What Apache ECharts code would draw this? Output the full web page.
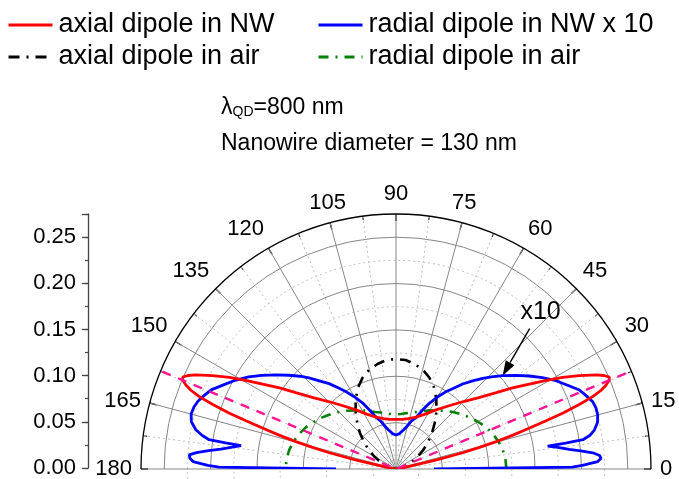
<!DOCTYPE html>
<html>
<head>
<meta charset="utf-8">
<script src="https://cdn.jsdelivr.net/npm/echarts@6/dist/echarts.min.js"></script>
<style>
  html, body { margin: 0; padding: 0; background: #fff; }
  #chart { width: 679px; height: 479px; }
</style>
</head>
<body>
<div id="chart"></div>
<script>
// ---- emission patterns (radius = intensity, angle in degrees) ----
const redAngles = [0, 4, 8, 11, 12.2, 12.7, 13.7, 14.5, 15.3, 16.2, 17, 17.8, 18.5, 19.4, 20.2, 21, 21.8, 22.6, 23.3, 24.2, 25.2, 27, 28.8, 30.6, 32.5, 35, 37.3, 41, 45.3, 50, 55.9, 62, 69, 76, 83, 90,
  97, 104, 111, 118, 124.1, 130, 134.7, 139, 142.7, 145, 147.5, 149.4, 151.2, 153, 154.8, 155.8, 156.7, 157.4, 158.2, 159, 159.8, 160.6, 161.5, 162.2, 163, 163.8, 164.7, 165.5, 166.3, 167.3, 167.8, 169, 172, 176, 180];
const redRadii = [0, 0.002, 0.006, 0.012, 0.025, 0.045, 0.074, 0.093, 0.112, 0.132, 0.150, 0.170, 0.190, 0.210, 0.226, 0.237, 0.244, 0.249, 0.2505, 0.246, 0.2385, 0.222, 0.205, 0.187, 0.1705, 0.152, 0.136, 0.117, 0.102, 0.089, 0.077, 0.067, 0.060, 0.056, 0.054, 0.0536,
  0.054, 0.056, 0.060, 0.067, 0.077, 0.089, 0.102, 0.117, 0.136, 0.152, 0.1705, 0.187, 0.205, 0.222, 0.2385, 0.246, 0.2505, 0.249, 0.244, 0.237, 0.226, 0.210, 0.190, 0.170, 0.150, 0.132, 0.112, 0.093, 0.074, 0.045, 0.025, 0.012, 0.006, 0.002, 0];

const blueAngles = [0, 0.6, 1.1, 2.1, 3.0, 3.8, 4.7, 5.6, 6.5, 7.6, 8.6, 8.7, 8.9, 9.8, 11.1, 13, 15, 17, 18.9, 21, 23.3, 26, 28.9, 32, 34.9, 38, 41.2, 44, 46.3, 49, 51.9, 54.5, 57.2, 60, 63.1, 66, 68.5, 72, 76, 79.5, 85, 90,
  95, 100.5, 104, 108, 111.5, 114, 116.9, 120, 122.8, 125.5, 128.1, 131, 133.7, 136, 138.8, 142, 145.1, 148, 151.1, 154, 156.7, 159, 161.1, 163, 165, 167, 168.9, 170.2, 171.1, 171.3, 171.4, 172.4, 173.5, 174.4, 175.3, 176.1, 177, 177.9, 178.9, 179.4, 180];
const blueRadii = [0.041, 0.190, 0.201, 0.2177, 0.2215, 0.220, 0.213, 0.200, 0.188, 0.176, 0.1655, 0.185, 0.204, 0.212, 0.218, 0.223, 0.2252, 0.2255, 0.2242, 0.220, 0.2153, 0.206, 0.197, 0.186, 0.1753, 0.164, 0.1528, 0.143, 0.1353, 0.126, 0.1165, 0.107, 0.099, 0.090, 0.0794, 0.069, 0.060, 0.0545, 0.047, 0.0425, 0.038, 0.0367,
  0.038, 0.0425, 0.047, 0.0545, 0.061, 0.069, 0.080, 0.090, 0.099, 0.1075, 0.117, 0.126, 0.136, 0.144, 0.1535, 0.165, 0.1765, 0.1875, 0.198, 0.207, 0.2165, 0.2215, 0.2258, 0.228, 0.2287, 0.2265, 0.220, 0.212, 0.204, 0.186, 0.169, 0.178, 0.190, 0.203, 0.216, 0.2235, 0.2225, 0.219, 0.203, 0.191, 0.0647];

const airAngles = [0, 5, 10, 15, 20, 25, 30, 35, 40, 45, 50, 55, 60, 65, 70, 75, 80, 85, 90, 95, 100, 105, 110, 115, 120, 125, 130, 135, 140, 145, 150, 155, 160, 165, 170, 175, 180];
const blackRadii = [0, 0.001, 0.003, 0.007, 0.012, 0.019, 0.027, 0.036, 0.045, 0.055, 0.065, 0.076, 0.087, 0.097, 0.105, 0.111, 0.115, 0.118, 0.1185, 0.118, 0.115, 0.111, 0.105, 0.097, 0.087, 0.076, 0.065, 0.055, 0.045, 0.036, 0.027, 0.019, 0.012, 0.007, 0.003, 0.001, 0];
const greenRadii = [0.119, 0.1185, 0.117, 0.1145, 0.111, 0.107, 0.102, 0.097, 0.092, 0.087, 0.082, 0.077, 0.073, 0.069, 0.0655, 0.063, 0.061, 0.0595, 0.059, 0.0595, 0.061, 0.063, 0.0655, 0.069, 0.073, 0.077, 0.082, 0.087, 0.092, 0.097, 0.102, 0.107, 0.111, 0.1145, 0.117, 0.1185, 0.119];

// directions of the main NW lobes (guide line through the origin)
const lobeAngles = [157.4, 22.6];
const lobeReach = 0.273;

// the "x10" note points at this spot of the radial NW curve
const noteAnchor = [0.1528, 41.2];

const seriesNames = ['axial dipole in NW', 'radial dipole in NW x 10', 'axial dipole in air', 'radial dipole in air'];

const FONT = '"Liberation Sans", Arial, Helvetica, sans-serif';
const CENTER = [396, 469];
const R_OUT = 255;          // pixel radius of the 0.275 ring
const R_MAX = 0.275;
const R_GRID = 0.25;

const pairs = (angles, radii) => angles.map((a, i) => [radii[i], a]);

const chart = echarts.init(document.getElementById('chart'), null, { renderer: 'canvas' });

const polarLine = (name, data, color, width, dash, z) => ({
  name, type: 'line', coordinateSystem: 'polar', polarIndex: 0,
  data, showSymbol: false, symbol: 'none', smooth: false, silent: true, z,
  lineStyle: { color, width, type: dash || 'solid', cap: 'butt' },
  itemStyle: { color }
});

const legendBlock = (left, names) => ({
  left, top: 4, orient: 'vertical', itemWidth: 44, itemHeight: 12, itemGap: 0,
  data: names,
  textStyle: { fontSize: 27, lineHeight: 32, color: '#000', fontFamily: FONT, padding: [0, 0, 0, 1] },
  itemStyle: { opacity: 0 },
  lineStyle: { width: 3 },
  selectedMode: false
});

const option = {
  animation: false,
  textStyle: { fontFamily: FONT },
  polar: [
    { center: CENTER, radius: R_OUT },
    { center: CENTER, radius: R_OUT * R_GRID / R_MAX }
  ],
  angleAxis: [
    {
      polarIndex: 0, type: 'value', min: 0, max: 180, interval: 15,
      startAngle: 0, endAngle: 180, clockwise: false,
      axisLine: { show: true, lineStyle: { color: '#000', width: 1.3 } },
      axisTick: { show: true, inside: true, length: 7, lineStyle: { color: '#000', width: 1.3 } },
      minorTick: { show: true, splitNumber: 2, length: 4, lineStyle: { color: '#000', width: 1 } },
      axisLabel: { show: true, margin: 9, fontSize: 22, color: '#000', fontFamily: FONT },
      splitLine: { show: true, lineStyle: { color: '#858585', width: 1 } },
      minorSplitLine: { show: true, lineStyle: { color: '#bdbdbd', width: 1, type: [2, 3] } }
    },
    {
      polarIndex: 1, type: 'value', min: 0, max: 180,
      startAngle: 0, endAngle: 180, clockwise: false,
      axisLine: { show: false }, axisTick: { show: false }, axisLabel: { show: false },
      splitLine: { show: false }
    }
  ],
  radiusAxis: [
    {
      polarIndex: 0, type: 'value', min: 0, max: R_MAX,
      axisLine: { show: false }, axisTick: { show: false }, axisLabel: { show: false },
      splitLine: { show: false }
    },
    {
      polarIndex: 1, type: 'value', min: 0, max: R_GRID, interval: 0.05,
      axisLine: { show: false }, axisTick: { show: false }, axisLabel: { show: false },
      splitLine: { show: true, lineStyle: { color: '#858585', width: 1 } },
      minorSplitLine: { show: true, lineStyle: { color: '#bdbdbd', width: 1, type: [2, 3] } },
      minorTick: { show: false, splitNumber: 2 }
    }
  ],
  // stand-alone intensity scale on the left
  grid: { left: 88, top: CENTER[1] - R_OUT, height: R_OUT, width: 1, containLabel: false },
  xAxis: { type: 'value', show: false, min: 0, max: 1 },
  yAxis: [
    {
      type: 'value', position: 'left', min: 0, max: R_MAX, interval: 0.05,
      axisLine: { show: true, lineStyle: { color: '#444', width: 1.3 } },
      axisTick: { show: true, inside: false, length: 6, lineStyle: { color: '#444', width: 1.3 } },
      axisLabel: {
        margin: 12, fontSize: 22, color: '#000', fontFamily: FONT,
        formatter: v => (v > R_GRID + 1e-9 ? '' : v.toFixed(2))
      },
      splitLine: { show: false }
    },
    {
      type: 'value', position: 'left', min: 0, max: R_MAX, interval: 0.025,
      axisLine: { show: false },
      axisTick: { show: true, inside: false, length: 3, lineStyle: { color: '#444', width: 1.2 } },
      axisLabel: { show: false },
      splitLine: { show: false }
    }
  ],
  legend: [
    legendBlock(2, [seriesNames[0], seriesNames[2]]),
    legendBlock(312, [seriesNames[1], seriesNames[3]])
  ],
  series: [
    polarLine(seriesNames[2], pairs(airAngles, blackRadii), '#000000', 2.6, [11, 7, 2, 7], 3),
    polarLine(seriesNames[3], pairs(airAngles, greenRadii), '#008000', 2.6, [10, 7, 2, 7], 4),
    polarLine(seriesNames[1], pairs(blueAngles, blueRadii), '#0000ff', 2.8, null, 5),
    polarLine(seriesNames[0], pairs(redAngles, redRadii), '#ff0000', 2.8, null, 6),
    polarLine('lobe direction', [
      [lobeReach, lobeAngles[0]], [0, lobeAngles[0]], [0, lobeAngles[1]], [lobeReach, lobeAngles[1]]
    ], '#ff1493', 2.4, [9, 8], 7)
  ]
};

chart.setOption(option);

// annotations: wavelength / diameter text and the "x10" arrow
const tip = chart.convertToPixel({ seriesIndex: 2 }, noteAnchor);
const tail = [tip[0] + 27, tip[1] - 47];
const dx = tip[0] - tail[0], dy = tip[1] - tail[1];
const len = Math.hypot(dx, dy), ux = dx / len, uy = dy / len;
const headLen = 15, headHalf = 5;
const base = [tip[0] - ux * headLen, tip[1] - uy * headLen];

chart.setOption({
  graphic: [
    {
      type: 'text', left: 221, top: 94,
      style: {
        text: '{a|λ}{s|QD}{a|=800 nm}',
        rich: {
          a: { fontSize: 23, fontFamily: FONT, fill: '#000', lineHeight: 28, verticalAlign: 'bottom' },
          s: { fontSize: 14, fontFamily: FONT, fill: '#000', lineHeight: 28, verticalAlign: 'bottom', padding: [11, 0, 0, 0] }
        }
      }
    },
    {
      type: 'text', left: 221, top: 132,
      style: { text: 'Nanowire diameter = 130 nm', fontSize: 23, fontFamily: FONT, fill: '#000' }
    },
    {
      type: 'text', x: tip[0] + 38, y: tip[1] - 64,
      style: { text: 'x10', fontSize: 25, fontFamily: FONT, fill: '#000', align: 'center', verticalAlign: 'middle' }
    },
    {
      type: 'line', shape: { x1: tail[0], y1: tail[1], x2: base[0], y2: base[1] },
      style: { stroke: '#000', lineWidth: 1.4 }
    },
    {
      type: 'polygon',
      shape: { points: [tip, [base[0] - uy * headHalf, base[1] + ux * headHalf], [base[0] + uy * headHalf, base[1] - ux * headHalf]] },
      style: { fill: '#000' }
    }
  ]
});
</script>
</body>
</html>
